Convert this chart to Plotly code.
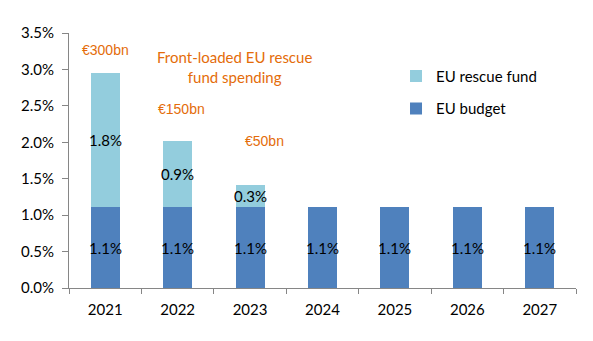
import plotly.graph_objects as go

years = ["2021", "2022", "2023", "2024", "2025", "2026", "2027"]
eu_budget = [1.11, 1.11, 1.11, 1.11, 1.11, 1.11, 1.11]
rescue_fund = [1.84, 0.91, 0.31, None, None, None, None]
budget_labels = ["1.1%"] * 7
rescue_labels = ["1.8%", "0.9%", "0.3%", "", "", "", ""]
amount_labels = ["€300bn", "€150bn", "€50bn"]
y_ticks = [0, 0.5, 1.0, 1.5, 2.0, 2.5, 3.0, 3.5]
y_ticklabels = ["0.0%", "0.5%", "1.0%", "1.5%", "2.0%", "2.5%", "3.0%", "3.5%"]

BUDGET_C = "#4F81BD"
RESCUE_C = "#93CDDD"
ORANGE = "#E46C0A"
FONT = "Lato, Carlito, Calibri, sans-serif"

fig = go.Figure()
fig.add_bar(x=years, y=eu_budget, name="EU budget", marker_color=BUDGET_C,
            marker_line_width=0, legendgroup="b", legendrank=2)
fig.add_bar(x=years, y=rescue_fund, name="EU rescue fund", marker_color=RESCUE_C,
            marker_line_width=0, legendgroup="r", legendrank=1)

ann = []
for i in range(len(years)):
    ann.append(dict(x=i, y=eu_budget[i] / 2, text=budget_labels[i], showarrow=False,
                    font=dict(size=15, color="black", family=FONT)))
    if rescue_fund[i]:
        ann.append(dict(x=i, y=eu_budget[i] + rescue_fund[i] / 2, text=rescue_labels[i],
                        showarrow=False, font=dict(size=15, color="black", family=FONT)))
# amount labels
amount_pos = [(0, 3.27), (1.05, 2.46), (2.2, 2.02)]
for lab, (xi, yy) in zip(amount_labels, amount_pos):
    ann.append(dict(x=xi, y=yy, text=lab, showarrow=False,
                    font=dict(size=14, color=ORANGE, family="Liberation Sans, Arial")))
ann.append(dict(x=1.78, y=3.03, text="Front-loaded EU rescue<br>fund spending", showarrow=False,
                font=dict(size=15, color=ORANGE, family=FONT)))

fig.update_layout(
    barmode="stack",
    bargap=0.6,
    width=593, height=341,
    margin=dict(l=69, r=17, t=33, b=53),
    paper_bgcolor="white", plot_bgcolor="white",
    font=dict(family=FONT, size=15, color="black"),
    showlegend=True,
    legend=dict(x=0.645, y=0.895, xanchor="left", yanchor="top",
                traceorder="grouped", tracegroupgap=10,
                font=dict(size=15, color="black", family=FONT),
                bgcolor="rgba(0,0,0,0)", itemwidth=30),
    annotations=ann,
    xaxis=dict(type="category", range=[-0.5, len(years) - 0.5],
               showline=True, linecolor="#868686", linewidth=1,
               ticks="outside", tickson="boundaries", ticklen=5, tickcolor="#868686",
               ticklabelstandoff=8,
               tickfont=dict(size=15, family=FONT), showgrid=False),
    yaxis=dict(range=[0, 3.5], tickvals=y_ticks, ticktext=y_ticklabels,
               showline=True, linecolor="#868686", linewidth=1,
               ticks="outside", ticklen=6, tickcolor="#868686",
               ticklabelstandoff=5,
               tickfont=dict(size=15, family=FONT), showgrid=False, zeroline=False),
)

fig.write_html("out.html")
